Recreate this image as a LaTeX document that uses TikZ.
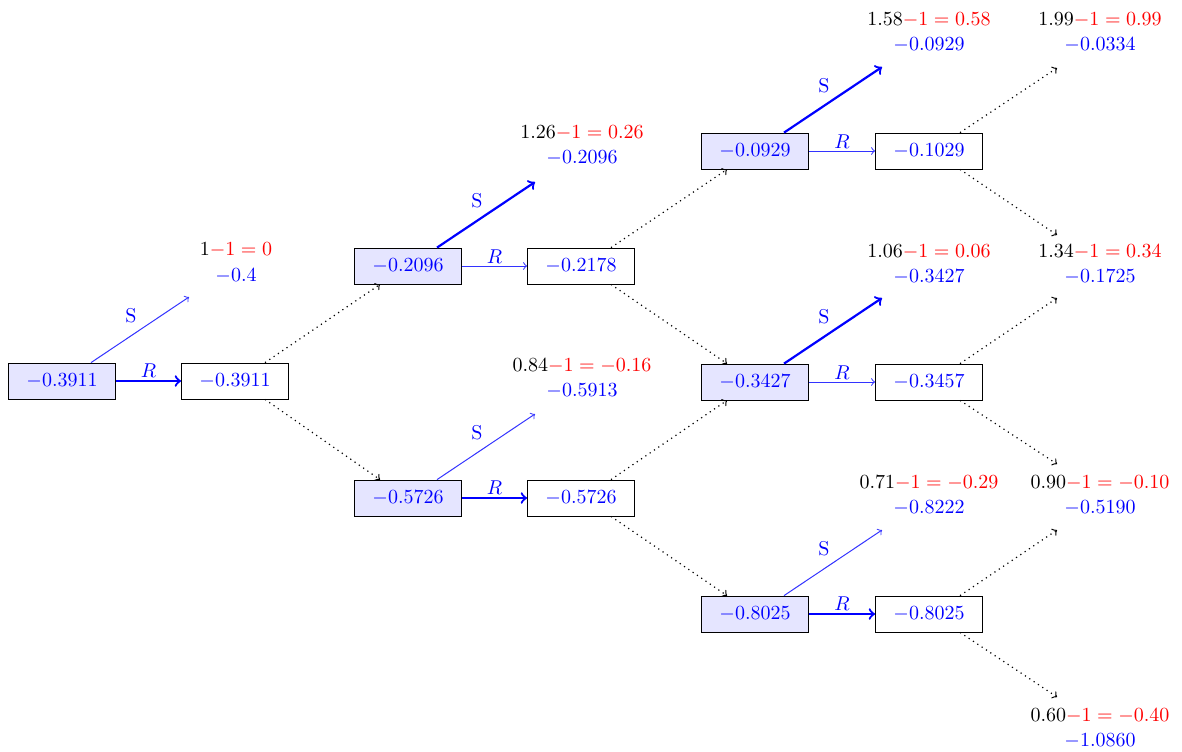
\documentclass[tikz,border=0pt]{standalone}
\usetikzlibrary{calc}
\begin{document}
\begin{tikzpicture}[x=0.5pt,y=-0.5pt,
  box/.style={draw, text=blue, minimum width=53.5pt, minimum height=18pt, inner sep=0pt},
  dec/.style={box, fill=blue!10},
  cha/.style={box, fill=white},
  strong/.style={->, blue, line width=1.1pt},
  weak/.style={->, blue!80, line width=0.5pt},
  move/.style={->, dotted, line width=0.6pt},
  lab/.style={text=blue, inner sep=1pt},
  stoplab/.style={lab, xshift=-4.5pt, yshift=7pt},
  pay/.style={inner sep=0pt}
]
\useasboundingbox (0,0) rectangle (1182,751);

% decision (filled) and continuation (white) nodes
\node[dec] (d0)  at (62,381)  {$-0.3911$};
\node[cha] (c0)  at (235,381) {$-0.3911$};
\node[dec] (d1a) at (408,266) {$-0.2096$};
\node[cha] (c1a) at (581,266) {$-0.2178$};
\node[dec] (d1b) at (408,498) {$-0.5726$};
\node[cha] (c1b) at (581,498) {$-0.5726$};
\node[dec] (d2a) at (755,151) {$-0.0929$};
\node[cha] (c2a) at (929,151) {$-0.1029$};
\node[dec] (d2b) at (755,382) {$-0.3427$};
\node[cha] (c2b) at (929,382) {$-0.3457$};
\node[dec] (d2c) at (755,614) {$-0.8025$};
\node[cha] (c2c) at (929,614) {$-0.8025$};

% ends of the stopping arrows
\coordinate (s0)  at (189,297);
\coordinate (s1a) at (535,182);
\coordinate (s1b) at (535,414);
\coordinate (s2a) at (882,67);
\coordinate (s2b) at (882,298);
\coordinate (s2c) at (882,530);

% ends of the last-step arrows
\coordinate (e1) at (1057,68);
\coordinate (e2) at (1057,235);
\coordinate (e3) at (1057,298);
\coordinate (e4) at (1057,464);
\coordinate (e5) at (1057,530);
\coordinate (e6) at (1057,697);

% stop / continue arrows
\draw[weak]   ([xshift=14.5pt]d0.north)  -- node[stoplab] {S} (s0);
\draw[strong] (d0.east)  -- node[lab, above] {$R$} (c0.west);
\draw[strong] ([xshift=14.5pt]d1a.north) -- node[stoplab] {S} (s1a);
\draw[weak]   (d1a.east) -- node[lab, above] {$R$} (c1a.west);
\draw[weak]   ([xshift=14.5pt]d1b.north) -- node[stoplab] {S} (s1b);
\draw[strong] (d1b.east) -- node[lab, above] {$R$} (c1b.west);
\draw[strong] ([xshift=14.5pt]d2a.north) -- node[stoplab] {S} (s2a);
\draw[weak]   (d2a.east) -- node[lab, above] {$R$} (c2a.west);
\draw[strong] ([xshift=14.5pt]d2b.north) -- node[stoplab] {S} (s2b);
\draw[weak]   (d2b.east) -- node[lab, above] {$R$} (c2b.west);
\draw[weak]   ([xshift=14.5pt]d2c.north) -- node[stoplab] {S} (s2c);
\draw[strong] (d2c.east) -- node[lab, above] {$R$} (c2c.west);

% up / down moves
\draw[move] ([xshift=15pt]c0.north)  -- ([xshift=-14pt]d1a.south);
\draw[move] ([xshift=15pt]c0.south)  -- ([xshift=-14pt]d1b.north);
\draw[move] ([xshift=15pt]c1a.north) -- ([xshift=-14pt]d2a.south);
\draw[move] ([xshift=15pt]c1a.south) -- ([xshift=-14pt]d2b.north);
\draw[move] ([xshift=15pt]c1b.north) -- ([xshift=-14pt]d2b.south);
\draw[move] ([xshift=15pt]c1b.south) -- ([xshift=-14pt]d2c.north);
\draw[move] ([xshift=15.5pt]c2a.north) -- (e1);
\draw[move] ([xshift=15.5pt]c2a.south) -- (e2);
\draw[move] ([xshift=15.5pt]c2b.north) -- (e3);
\draw[move] ([xshift=15.5pt]c2b.south) -- (e4);
\draw[move] ([xshift=15.5pt]c2c.north) -- (e5);
\draw[move] ([xshift=15.5pt]c2c.south) -- (e6);

% stopping payoffs
\node[pay] (p0a)  at (236,250) {$1\textcolor{red}{-1 = 0}$};
\node[pay,text=blue] (p0b) at (236,276) {$-0.4$};
\node[pay] (p1aa) at (582,133) {$1.26\textcolor{red}{-1 = 0.26}$};
\node[pay,text=blue] (p1ab) at (582,158) {$-0.2096$};
\node[pay] (p1ba) at (582,366) {$0.84\textcolor{red}{-1 = -0.16}$};
\node[pay,text=blue] (p1bb) at (582,391) {$-0.5913$};
\node[pay] (p2aa) at (929,20)  {$1.58\textcolor{red}{-1 = 0.58}$};
\node[pay,text=blue] (p2ab) at (929,45) {$-0.0929$};
\node[pay] (p2ba) at (929,252) {$1.06\textcolor{red}{-1 = 0.06}$};
\node[pay,text=blue] (p2bb) at (929,277) {$-0.3427$};
\node[pay] (p2ca) at (929,483) {$0.71\textcolor{red}{-1 = -0.29}$};
\node[pay,text=blue] (p2cb) at (929,508) {$-0.8222$};

% terminal payoffs
\node[pay] (t1a) at (1100,20)  {$1.99\textcolor{red}{-1 = 0.99}$};
\node[pay,text=blue] (t1b) at (1100,45)  {$-0.0334$};
\node[pay] (t2a) at (1100,252) {$1.34\textcolor{red}{-1 = 0.34}$};
\node[pay,text=blue] (t2b) at (1100,277) {$-0.1725$};
\node[pay] (t3a) at (1100,483) {$0.90\textcolor{red}{-1 = -0.10}$};
\node[pay,text=blue] (t3b) at (1100,508) {$-0.5190$};
\node[pay] (t4a) at (1100,716) {$0.60\textcolor{red}{-1 = -0.40}$};
\node[pay,text=blue] (t4b) at (1100,741) {$-1.0860$};
\end{tikzpicture}
\end{document}
